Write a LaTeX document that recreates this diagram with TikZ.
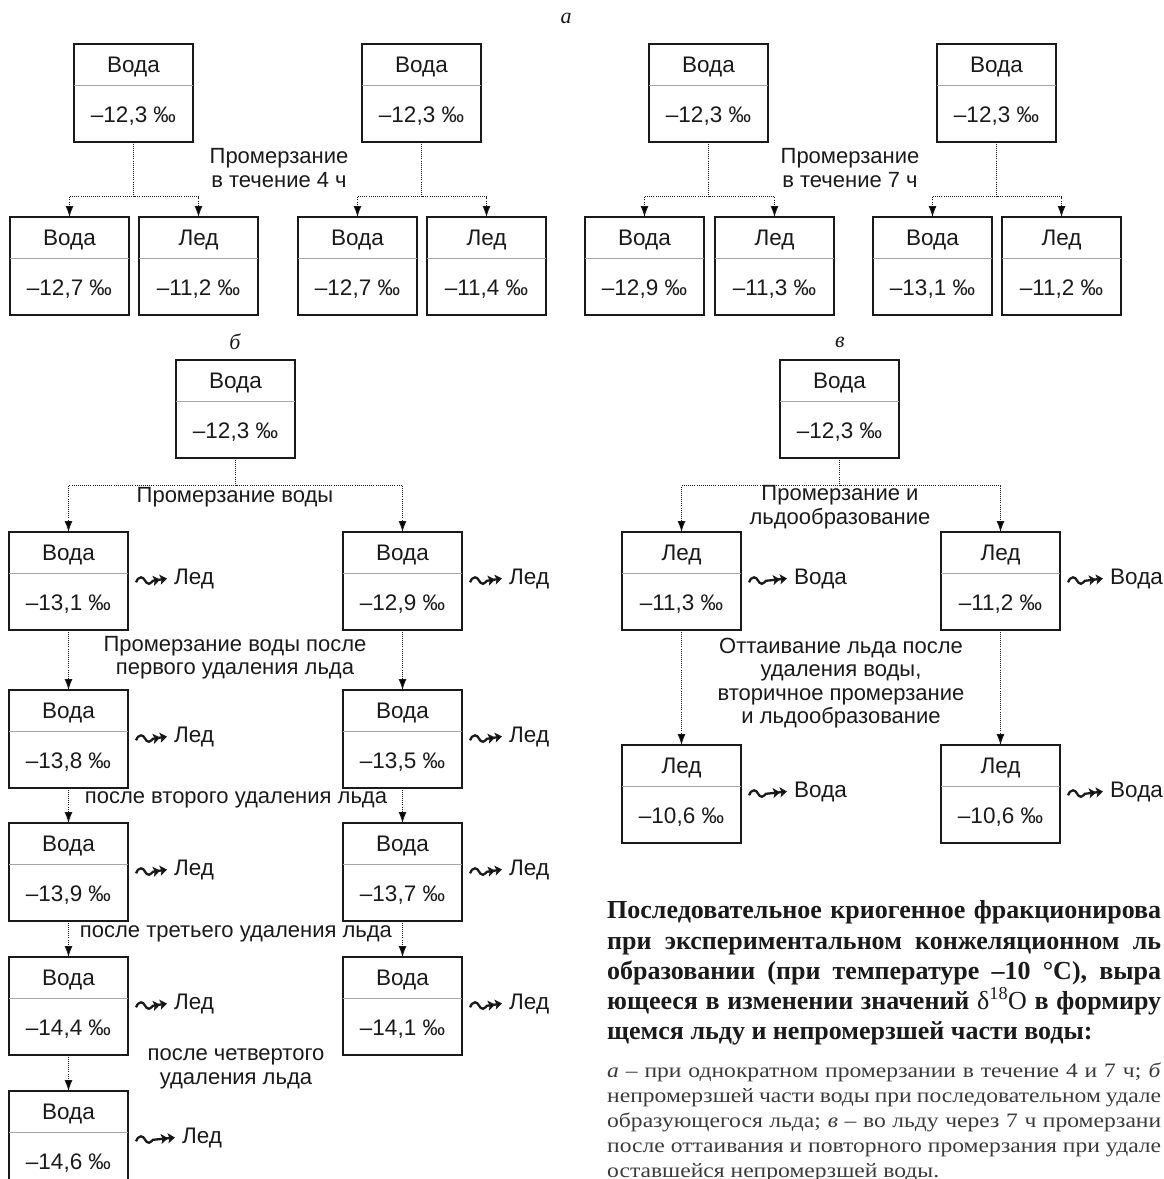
\documentclass[tikz,border=0pt]{standalone}
\usepackage{fontspec}
\setmainfont{Liberation Serif}
\setsansfont{Liberation Sans}
\newfontfamily\capfont[FakeStretch=1.15]{Liberation Serif}
\usetikzlibrary{shapes.multipart,arrows.meta,calc}

\definecolor{ink}{HTML}{1A1A1A}
\definecolor{sepgray}{HTML}{A6A6A6}
\definecolor{captxt}{HTML}{3A3A3A}

\tikzset{
 box/.style={rectangle split, rectangle split parts=2, rectangle split draw splits=false,
   draw=ink, line width=1.8pt, minimum width=119pt, inner sep=0pt, outer sep=0pt,
   anchor=north west, font=\sffamily\fontsize{22.5}{24}\selectfont, text=ink},
 flow/.style={draw=ink, line width=0.9pt, dash pattern=on 0.9pt off 1.2pt,
   -{Latex[length=11pt,width=8pt]}},
 lbl/.style={font=\sffamily\fontsize{22}{23.5}\selectfont, align=center, text=ink, inner sep=0pt},
 prod/.style={font=\sffamily\fontsize{22.5}{24}\selectfont, text=ink, anchor=west, inner sep=0pt},
 squig/.style={draw=ink, line width=2.3pt,
   -{Stealth[length=7pt,width=10pt,inset=1.5pt]Stealth[length=7pt,width=10pt,inset=1.5pt]}},
 sect/.style={font=\itshape\fontsize{22}{24}\selectfont, text=ink, inner sep=0pt},
 capb/.style={font=\bfseries\fontsize{26}{30}\selectfont, anchor=base west, inner sep=0pt, text=ink},
 capr/.style={font=\capfont\fontsize{20.5}{24}\selectfont, anchor=base west, inner sep=0pt, text=captxt},
}
\newcommand\strA{\rule[-12.3pt]{0pt}{40pt}}
\newcommand\strB{\rule[-18.7pt]{0pt}{54pt}}
\newcommand\mkbox[5]{\node[box] (#1) at (#2,-#3) {\strA#4\nodepart{two}\strB#5};
  \draw[sepgray, line width=1.2pt] (#1.text split west) -- (#1.text split east);}
\newcommand\sqto[2]{\draw[squig] ([xshift=8pt,yshift=-1.5pt]#1.east) to[out=65,in=180] ++(5,5) to[out=0,in=180] ++(8,-6.5) to[out=0,in=200] ++(4,3) -- ([xshift=-7pt]#2.west);}
\newcommand\fillline[1]{\makebox[554pt][s]{#1}}

\begin{document}
\begin{tikzpicture}[x=1pt,y=1pt]
\useasboundingbox (0,0) rectangle (1164,-1179);
\clip (0,0) rectangle (1164,-1179);

% ---------- section a ----------
\node[sect] (sa) at (566,-18) {а};
\mkbox{a1}{74}{44}{Вода}{–12,3 ‰}
\mkbox{a1l}{10}{217}{Вода}{–12,7 ‰}
\mkbox{a1r}{139}{217}{Лед}{–11,2 ‰}
\mkbox{a2}{362}{44}{Вода}{–12,3 ‰}
\mkbox{a2l}{298}{217}{Вода}{–12,7 ‰}
\mkbox{a2r}{427}{217}{Лед}{–11,4 ‰}
\mkbox{a3}{649}{44}{Вода}{–12,3 ‰}
\mkbox{a3l}{585}{217}{Вода}{–12,9 ‰}
\mkbox{a3r}{715}{217}{Лед}{–11,3 ‰}
\mkbox{a4}{937}{44}{Вода}{–12,3 ‰}
\mkbox{a4l}{873}{217}{Вода}{–13,1 ‰}
\mkbox{a4r}{1002}{217}{Лед}{–11,2 ‰}
\foreach \t in {a1,a2,a3,a4}{
  \draw[flow] (\t.south) -- ++(0,-55) -| (\t l.north);
  \draw[flow] (\t.south) -- ++(0,-55) -| (\t r.north);
}
\node[lbl] (la1) at (279,-168) {Промерзание\\в течение 4 ч};
\node[lbl] (la2) at (850,-168) {Промерзание\\в течение 7 ч};

% ---------- section b ----------
\node[sect] (sb) at (235,-342) {б};
\mkbox{b0}{176}{360}{Вода}{–12,3 ‰}
\mkbox{bl1}{9}{532}{Вода}{–13,1 ‰}
\mkbox{bl2}{9}{690}{Вода}{–13,8 ‰}
\mkbox{bl3}{9}{823}{Вода}{–13,9 ‰}
\mkbox{bl4}{9}{957}{Вода}{–14,4 ‰}
\mkbox{bl5}{9}{1091}{Вода}{–14,6 ‰}
\mkbox{br1}{343}{532}{Вода}{–12,9 ‰}
\mkbox{br2}{343}{690}{Вода}{–13,5 ‰}
\mkbox{br3}{343}{823}{Вода}{–13,7 ‰}
\mkbox{br4}{343}{957}{Вода}{–14,1 ‰}
\draw[flow] (b0.south) -- ++(0,-28) -| (bl1.north);
\draw[flow] (b0.south) -- ++(0,-28) -| (br1.north);
\draw[flow] (bl1.south) -- (bl2.north);
\draw[flow] (bl2.south) -- (bl3.north);
\draw[flow] (bl3.south) -- (bl4.north);
\draw[flow] (bl4.south) -- (bl5.north);
\draw[flow] (br1.south) -- (br2.north);
\draw[flow] (br2.south) -- (br3.north);
\draw[flow] (br3.south) -- (br4.north);

\node[prod] (pl1) at (174,-578.5) {Лед};
\node[prod] (pl2) at (174,-736.5) {Лед};
\node[prod] (pl3) at (174,-869.5) {Лед};
\node[prod] (pl4) at (174,-1003.5) {Лед};
\node[prod] (pl5) at (182,-1137.5) {Лед};
\node[prod] (pr1) at (509,-578.5) {Лед};
\node[prod] (pr2) at (509,-736.5) {Лед};
\node[prod] (pr3) at (509,-869.5) {Лед};
\node[prod] (pr4) at (509,-1003.5) {Лед};
\sqto{bl1}{pl1}\sqto{bl2}{pl2}\sqto{bl3}{pl3}\sqto{bl4}{pl4}\sqto{bl5}{pl5}
\sqto{br1}{pr1}\sqto{br2}{pr2}\sqto{br3}{pr3}\sqto{br4}{pr4}

\node[lbl] (lb1) at (235,-497) {Промерзание воды};
\node[lbl] (lb2) at (235,-657.5) {Промерзание воды после\\первого удаления льда};
\node[lbl] (lb3) at (236,-800) {после второго удаления льда};
\node[lbl] (lb4) at (236,-934) {после третьего удаления льда};
\node[lbl] (lb5) at (236,-1069) {после четвертого\\удаления льда};

% ---------- section v ----------
\node[sect] (sv) at (840,-342) {в};
\mkbox{v0}{780}{360}{Вода}{–12,3 ‰}
\mkbox{vl1}{622}{532}{Лед}{–11,3 ‰}
\mkbox{vr1}{941}{532}{Лед}{–11,2 ‰}
\mkbox{vl2}{622}{745}{Лед}{–10,6 ‰}
\mkbox{vr2}{941}{745}{Лед}{–10,6 ‰}
\draw[flow] (v0.south) -- ++(0,-28) -| (vl1.north);
\draw[flow] (v0.south) -- ++(0,-28) -| (vr1.north);
\draw[flow] (vl1.south) -- (vl2.north);
\draw[flow] (vr1.south) -- (vr2.north);
\node[prod] (ql1) at (794,-578.5) {Вода};
\node[prod] (qr1) at (1110,-578.5) {Вода};
\node[prod] (ql2) at (794,-791.5) {Вода};
\node[prod] (qr2) at (1110,-791.5) {Вода};
\sqto{vl1}{ql1}\sqto{vr1}{qr1}\sqto{vl2}{ql2}\sqto{vr2}{qr2}
\node[lbl] (lv1) at (840,-507) {Промерзание и\\льдообразование};
\node[lbl] (lv2) at (841,-683) {Оттаивание льда после\\удаления воды,\\вторичное промерзание\\и льдообразование};

% ---------- caption ----------
\node[capb] (c1) at (607,-918) {\fillline{Последовательное криогенное фракционирова}};
\node[capb] (c2) at (607,-949) {\fillline{при экспериментальном конжеляционном ль}};
\node[capb] (c3) at (607,-979) {\fillline{образовании (при температуре –10 °C), выра}};
\node[capb] (c4) at (607,-1009) {\fillline{ющееся в изменении значений {\mdseries δ\textsuperscript{18}O} в формиру}};
\node[capb] (c5) at (607,-1039) {щемся льду и непромерзшей части воды:};
\node[capr] (c6) at (607,-1077) {\fillline{\textit{а} – при однократном промерзании в течение 4 и 7 ч; \textit{б}}};
\node[capr] (c7) at (607,-1102) {\fillline{непромерзшей части воды при последовательном удале}};
\node[capr] (c8) at (607,-1127) {\fillline{образующегося льда; \textit{в} – во льду через 7 ч промерзани}};
\node[capr] (c9) at (607,-1152) {\fillline{после оттаивания и повторного промерзания при удале}};
\node[capr] (c10) at (607,-1177) {оставшейся непромерзшей воды.};
\end{tikzpicture}
\end{document}
